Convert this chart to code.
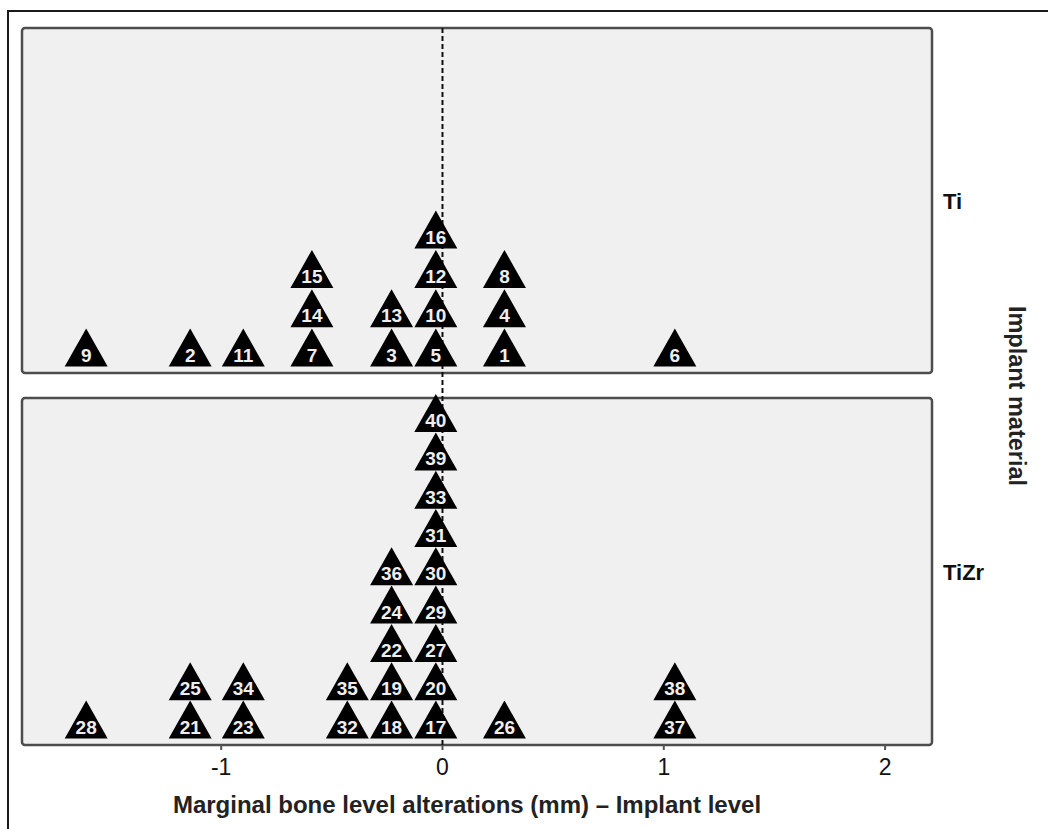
<!DOCTYPE html>
<html>
<head>
<meta charset="utf-8">
<script src="https://cdn.jsdelivr.net/npm/d3@7"></script>
<style>
	body { margin: 0; background: #fff; }
	svg { display: block; }
</style>
</head>
<body>
<div id="wrapper"></div>
<script>
// Implant ids and marginal bone level change (mm), per material
const materials = ["Ti", "TiZr"];
const tiIds = [1, 2, 3, 4, 5, 6, 7, 8, 9, 10, 11, 12, 13, 14, 15, 16];
const tiValues = [0.28, -1.14, -0.23, 0.28, -0.03, 1.05, -0.59, 0.28, -1.61, -0.03, -0.9, -0.03, -0.23, -0.59, -0.59, -0.03];
const tizrIds = [17, 18, 19, 20, 21, 22, 23, 24, 25, 26, 27, 28, 29, 30, 31, 32, 33, 34, 35, 36, 37, 38, 39, 40];
const tizrValues = [-0.03, -0.23, -0.23, -0.03, -1.14, -0.23, -0.9, -0.23, -1.14, 0.28, -0.03, -1.61, -0.03, -0.03, -0.03, -0.43, -0.03, -0.9, -0.43, -0.23, 1.05, 1.05, -0.03, -0.03];
const xTicks = [-1, 0, 1, 2];
const xDomain = [-1.9, 2.212];

const dimensions = {
	width: 1048,
	height: 829,
	plotLeft: 22,
	plotRight: 932,
	panels: [
		{ top: 28, bottom: 373, step: 39.3 },
		{ top: 398, bottom: 745, step: 38.3 },
	],
	triWidth: 43,
	triHeight: 38,
};

const font = "'Liberation Sans', Arial, sans-serif";

const svg = d3
	.select("#wrapper")
	.append("svg")
	.attr("width", dimensions.width)
	.attr("height", dimensions.height);

// outer frame
svg
	.append("rect")
	.attr("x", 8)
	.attr("y", 11)
	.attr("width", 1200)
	.attr("height", 1000)
	.attr("fill", "#fff")
	.attr("stroke", "#1a1a1a")
	.attr("stroke-width", 2);

const xScale = d3
	.scaleLinear()
	.domain(xDomain)
	.range([dimensions.plotLeft, dimensions.plotRight]);

const groups = [
	{ ids: tiIds, values: tiValues },
	{ ids: tizrIds, values: tizrValues },
];

// panels
dimensions.panels.forEach((p, i) => {
	svg
		.append("rect")
		.attr("x", dimensions.plotLeft)
		.attr("y", p.top)
		.attr("width", dimensions.plotRight - dimensions.plotLeft)
		.attr("height", p.bottom - p.top)
		.attr("rx", 3)
		.attr("fill", "#f0f0f0")
		.attr("stroke", "#4d4d4d")
		.attr("stroke-width", 2.5);

	svg
		.append("text")
		.attr("x", 943)
		.attr("y", (p.top + p.bottom) / 2 + 8)
		.attr("font-family", font)
		.attr("font-weight", "bold")
		.attr("font-size", 22)
		.attr("fill", "#111")
		.text(materials[i]);
});

// reference line at zero
const panelsTop = dimensions.panels[0].top;
const panelsBottom = dimensions.panels[1].bottom;
svg
	.append("line")
	.attr("x1", xScale(0))
	.attr("x2", xScale(0))
	.attr("y1", panelsTop)
	.attr("y2", panelsBottom)
	.attr("stroke", "#111")
	.attr("stroke-width", 2)
	.attr("stroke-dasharray", "5,3");

// stacked triangles
groups.forEach((g, gi) => {
	const p = dimensions.panels[gi];
	const counts = new Map();
	const points = g.ids.map((id, k) => {
		const v = g.values[k];
		const level = counts.get(v) || 0;
		counts.set(v, level + 1);
		return { id, value: v, level };
	});

	const yScale = d3
		.scaleLinear()
		.domain([0, 1])
		.range([p.bottom - 6.5, p.bottom - 6.5 - p.step]);

	const marks = svg
		.append("g")
		.selectAll("g")
		.data(points)
		.join("g")
		.attr("transform", (d) => `translate(${xScale(d.value)},${yScale(d.level)})`);

	marks
		.append("path")
		.attr("d", () => {
			const path = d3.path();
			const w = dimensions.triWidth / 2;
			path.moveTo(-w, 0);
			path.lineTo(w, 0);
			path.lineTo(0, -dimensions.triHeight);
			path.closePath();
			return path.toString();
		})
		.attr("fill", "#000");

	marks
		.append("text")
		.attr("x", 0)
		.attr("y", -5)
		.attr("text-anchor", "middle")
		.attr("font-family", font)
		.attr("font-weight", "bold")
		.attr("font-size", 19)
		.attr("fill", "#eee")
		.text((d) => d.id);
});

// x axis ticks and labels
const axis = svg.append("g");
axis
	.selectAll("line")
	.data(xTicks)
	.join("line")
	.attr("x1", (d) => xScale(d))
	.attr("x2", (d) => xScale(d))
	.attr("y1", panelsBottom)
	.attr("y2", panelsBottom + 5)
	.attr("stroke", "#555")
	.attr("stroke-width", 2);

axis
	.selectAll("text")
	.data(xTicks)
	.join("text")
	.attr("x", (d) => xScale(d))
	.attr("y", 775)
	.attr("text-anchor", "middle")
	.attr("font-family", font)
	.attr("font-size", 23)
	.attr("fill", "#111")
	.text((d) => d);

svg
	.append("text")
	.attr("x", 467)
	.attr("y", 813)
	.attr("text-anchor", "middle")
	.attr("font-family", font)
	.attr("font-weight", "bold")
	.attr("font-size", 24)
	.attr("fill", "#222")
	.text("Marginal bone level alterations (mm) – Implant level");

svg
	.append("text")
	.attr("transform", "translate(1009, 396) rotate(90)")
	.attr("text-anchor", "middle")
	.attr("font-family", font)
	.attr("font-weight", "bold")
	.attr("font-size", 23.5)
	.attr("fill", "#222")
	.text("Implant material");
</script>
</body>
</html>
